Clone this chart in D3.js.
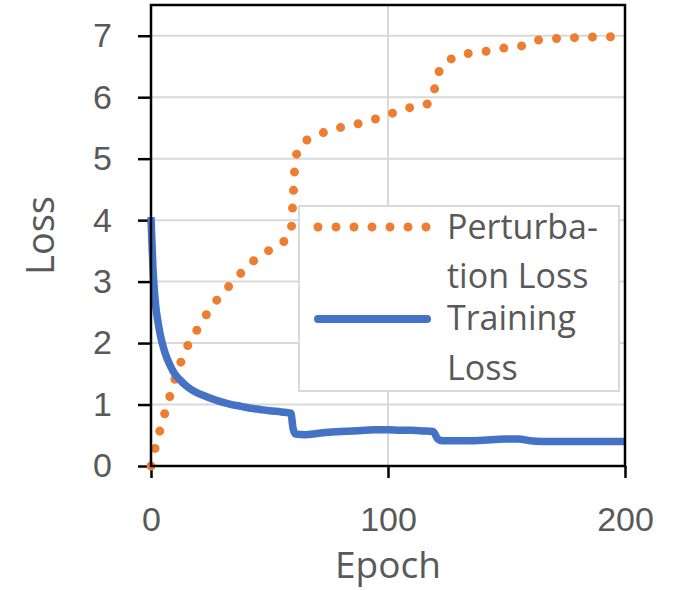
<!DOCTYPE html>
<html>
<head>
<meta charset="utf-8">
<script src="https://cdn.jsdelivr.net/npm/d3@7/dist/d3.min.js"></script>
<style>
    body { margin: 0; background: #fff; }
    svg { display: block; font-family: "Open Sans", sans-serif; }
</style>
</head>
<body>
<svg id="chart" width="685" height="590"></svg>
<script>
// values
let perturbEpochs = [0, 2, 4, 6, 8, 10, 13, 16, 20, 24, 28, 33, 38, 43, 49, 55, 59, 60, 61, 63, 65,
    70, 77, 84, 91, 98, 105, 111, 118, 120, 122, 127, 135, 142, 149, 155, 162, 169, 176, 183, 190, 200];
let perturbLoss = [0, 0.33, 0.61, 0.88, 1.14, 1.4, 1.73, 2.0, 2.25, 2.5, 2.71, 2.93, 3.14, 3.33, 3.49, 3.62, 3.8, 4.4, 5.0, 5.2, 5.28,
    5.38, 5.48, 5.54, 5.6, 5.69, 5.78, 5.85, 5.91, 6.19, 6.46, 6.63, 6.72, 6.75, 6.8, 6.82, 6.92, 6.95, 6.96, 6.98, 6.98, 7.0];

let trainEpochs = [0, 1, 2, 3, 4, 5, 6, 8, 10, 12, 15, 18, 22, 26, 30, 34, 38, 42, 46, 50, 55, 59, 60, 61,
    65, 70, 75, 80, 85, 90, 95, 100, 105, 110, 115, 119, 121, 123, 130, 135, 140, 145, 150, 155, 160,
    165, 170, 175, 180, 185, 190, 195, 200];
let trainLoss = [4.05, 3.1, 2.6, 2.33, 2.12, 1.96, 1.83, 1.64, 1.5, 1.41, 1.3, 1.22, 1.15, 1.09, 1.04, 1.0, 0.97, 0.94, 0.92, 0.9, 0.88, 0.86, 0.6, 0.52,
    0.51, 0.53, 0.55, 0.56, 0.57, 0.58, 0.59, 0.59, 0.58, 0.58, 0.57, 0.56, 0.44, 0.41, 0.41, 0.41, 0.42, 0.43, 0.44, 0.44, 0.41,
    0.4, 0.4, 0.4, 0.4, 0.4, 0.4, 0.4, 0.4];

let yTicks = [0, 1, 2, 3, 4, 5, 6, 7];
let xTicks = [0, 100, 200];
let seriesNames = [["Perturba-", "tion Loss"], ["Training", "Loss"]];

let orange = "#ED7D31", blue = "#4472C4", grid = "#D9D9D9", textColor = "#595959";

let svg = d3.select("#chart");
let plotLeft = 151, plotRight = 625, plotTop = 5, plotBottom = 466;

let x = d3.scaleLinear().domain([0, 200]).range([plotLeft, plotRight]);
let y = d3.scaleLinear().domain([0, 7.5]).range([plotBottom, plotTop]);

// gridlines
svg.append("g")
    .selectAll("line.h")
    .data(yTicks.slice(1))
    .enter().append("line")
    .attr("x1", plotLeft).attr("x2", plotRight)
    .attr("y1", d => y(d)).attr("y2", d => y(d))
    .attr("stroke", grid).attr("stroke-width", 2);

svg.append("g")
    .selectAll("line.v")
    .data(xTicks.slice(1, -1))
    .enter().append("line")
    .attr("x1", d => x(d)).attr("x2", d => x(d))
    .attr("y1", plotTop).attr("y2", plotBottom)
    .attr("stroke", grid).attr("stroke-width", 2);

// axes (outer ticks only)
let yAxis = svg.append("g")
    .attr("transform", "translate(" + plotLeft + ",0)")
    .call(d3.axisLeft(y).tickValues(yTicks).tickSize(13).tickPadding(26));
let xAxis = svg.append("g")
    .attr("transform", "translate(0," + plotBottom + ")")
    .call(d3.axisBottom(x).tickValues(xTicks).tickSize(12).tickPadding(29));

[yAxis, xAxis].forEach(function(a) {
    a.select(".domain").remove();
    a.selectAll("line").attr("stroke", "#000").attr("stroke-width", 2.5);
    a.selectAll("text")
        .attr("fill", textColor)
        .style("font-size", "34px");
});

// series
let line = d3.line()
    .x(d => x(d[0]))
    .y(d => y(d[1]))
    .curve(d3.curveMonotoneX);

svg.append("path")
    .datum(d3.zip(perturbEpochs, perturbLoss))
    .attr("d", line)
    .attr("fill", "none")
    .attr("stroke", orange)
    .attr("stroke-width", 9)
    .attr("stroke-linecap", "round")
    .attr("stroke-dasharray", "0 18");

svg.append("path")
    .datum(d3.zip(trainEpochs, trainLoss))
    .attr("d", line)
    .attr("fill", "none")
    .attr("stroke", blue)
    .attr("stroke-width", 7.5)
    .attr("stroke-linejoin", "round");

// plot border
svg.append("rect")
    .attr("x", plotLeft).attr("y", plotTop)
    .attr("width", plotRight - plotLeft).attr("height", plotBottom - plotTop)
    .attr("fill", "none")
    .attr("stroke", "#000")
    .attr("stroke-width", 2.5);

// legend
let legend = svg.append("g");
legend.append("rect")
    .attr("x", 299).attr("y", 206)
    .attr("width", 320).attr("height", 185)
    .attr("fill", "#fff")
    .attr("stroke", grid)
    .attr("stroke-width", 2);

let entries = [
    {name: seriesNames[0], color: orange, dash: "0 18", width: 9, sy: 227, ty: [239, 288]},
    {name: seriesNames[1], color: blue, dash: null, width: 8, sy: 319, ty: [330, 380]}
];

entries.forEach(function(e) {
    legend.append("line")
        .attr("x1", 318).attr("x2", 427)
        .attr("y1", e.sy).attr("y2", e.sy)
        .attr("stroke", e.color)
        .attr("stroke-width", e.width)
        .attr("stroke-linecap", "round")
        .attr("stroke-dasharray", e.dash);
    e.name.forEach(function(t, i) {
        legend.append("text")
            .attr("x", 447).attr("y", e.ty[i])
            .attr("fill", textColor)
            .style("font-size", "34px")
            .text(t);
    });
});

// axis titles
svg.append("text")
    .attr("transform", "translate(54," + ((plotTop + plotBottom) / 2) + ") rotate(-90)")
    .attr("text-anchor", "middle")
    .attr("fill", textColor)
    .style("font-size", "38px")
    .text("Loss");

svg.append("text")
    .attr("x", (plotLeft + plotRight) / 2).attr("y", 578)
    .attr("text-anchor", "middle")
    .attr("fill", textColor)
    .style("font-size", "37px")
    .text("Epoch");
</script>
</body>
</html>
